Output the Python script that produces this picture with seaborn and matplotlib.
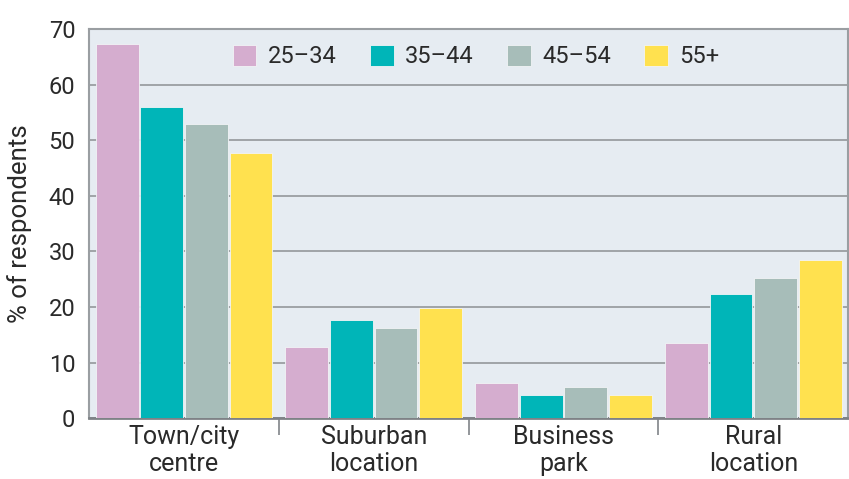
import numpy as np
import pandas as pd
import seaborn as sns
import matplotlib.pyplot as plt
from matplotlib.ticker import FixedLocator

# values
locations = ['Town/city\ncentre', 'Suburban\nlocation', 'Business\npark', 'Rural\nlocation']
age_groups = ['25\u201334', '35\u201344', '45\u201354', '55+']
age_25_34 = [67.3, 12.8, 6.4, 13.6]
age_35_44 = [56.0, 17.6, 4.1, 22.4]
age_45_54 = [53.0, 16.2, 5.6, 25.2]
age_55_plus = [47.8, 19.9, 4.1, 28.4]
colours = ['#D5ADCF', '#00B5B8', '#A7BDB9', '#FFE14F']

df = pd.DataFrame({
    'location': locations * 4,
    'age': np.repeat(age_groups, len(locations)),
    'pct': age_25_34 + age_35_44 + age_45_54 + age_55_plus,
})

sns.set_style('white')
plt.rcParams['font.family'] = ['Roboto', 'DejaVu Sans']

fig = plt.figure(figsize=(8.49, 4.79), dpi=100)
ax = fig.add_axes([0.105, 0.127, 0.894, 0.812])
ax.set_facecolor('#E6ECF2')

sns.barplot(data=df, x='location', y='pct', hue='age', hue_order=age_groups,
            order=locations, palette=colours, saturation=1, width=0.94, gap=0.04,
            edgecolor='#F2F4F6', linewidth=0.6, ax=ax, zorder=3)

ax.set_xlim(-0.5, 3.5)
ax.set_ylim(0, 70)
ax.set_yticks(range(0, 71, 10))
ax.grid(axis='y', color='#9A9EA2', linewidth=1.3, zorder=1)
ax.set_axisbelow(True)

ax.set_xlabel('')
ax.set_ylabel('% of respondents', fontsize=18.5, color='#2a2a2a', labelpad=12)
ax.tick_params(axis='y', length=0, labelsize=17, labelcolor='#2a2a2a', pad=10)
ax.tick_params(axis='x', which='major', length=0, labelsize=18, labelcolor='#2a2a2a', pad=5)
for lbl in ax.get_xticklabels():
    lbl.set_linespacing(1.15)
ax.xaxis.set_minor_locator(FixedLocator([0.5, 1.5, 2.5]))
ax.tick_params(axis='x', which='minor', bottom=True, length=12, width=1.3,
               color='#8A8E92', direction='out')

for side in ['left', 'top', 'right']:
    ax.spines[side].set_color('#9A9EA2')
    ax.spines[side].set_linewidth(1.5)
ax.spines['bottom'].set_color('#7E8286')
ax.spines['bottom'].set_linewidth(2)

leg = ax.legend(loc='upper center', bbox_to_anchor=(0.51, 1.015), ncol=4, frameon=False,
                fontsize=17, handlelength=1.0, handleheight=1.0, handletextpad=0.5,
                columnspacing=1.4)
for t in leg.get_texts():
    t.set_color('#2a2a2a')

fig.savefig('out.png', dpi=100)
